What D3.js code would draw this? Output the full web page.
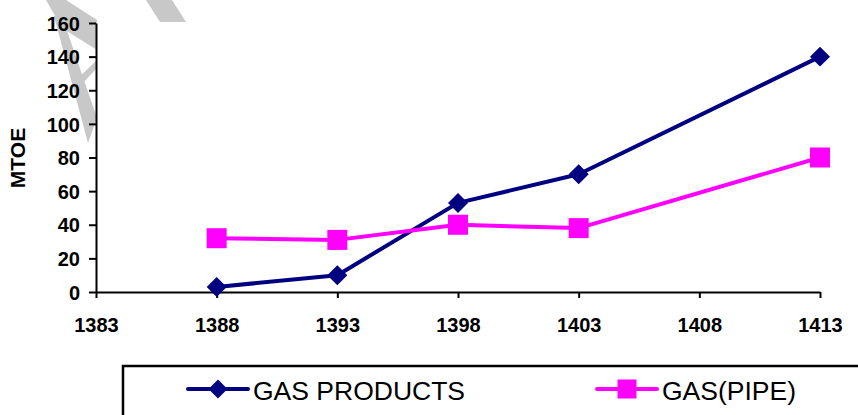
<!DOCTYPE html>
<html>
<head>
<meta charset="utf-8">
<script src="https://cdn.jsdelivr.net/npm/d3@7"></script>
<style>
  html, body { margin: 0; padding: 0; background: #fff; }
  svg { display: block; font-family: Arial, "Liberation Sans", sans-serif; }
</style>
</head>
<body>
<svg id="chart" width="858" height="415"></svg>
<script>
const years = [1388, 1393, 1398, 1403, 1413];
const xTicks = [1383, 1388, 1393, 1398, 1403, 1408, 1413];
const yTicks = [0, 20, 40, 60, 80, 100, 120, 140, 160];
const gasProducts = [3, 10, 53, 70, 140];
const gasPipe = [32, 31, 40, 38, 80];
const seriesNames = ["GAS PRODUCTS", "GAS(PIPE)"];
const seriesColors = ["#000080", "#FF00FF"];
const yTitle = "MTOE";

const svg = d3.select("#chart");
const W = 858, H = 415;
const m = { left: 96, right: 38, top: 23, bottom: 123 };

const x = d3.scaleLinear().domain([1383, 1413]).range([m.left, W - m.right]);
const y = d3.scaleLinear().domain([0, 160]).range([H - m.bottom, m.top]);

// faint grey watermark fragments (decorative)
const wm = svg.append("g").attr("fill", "#c8c8c8");
wm.append("path").attr("d", "M46,0 L66,0 L97,20 L97,50 L62,28 Z");
wm.append("path").attr("d", "M54,16 L62,16 L97,118 L88,143 Z");
wm.append("path").attr("d", "M97,60 L97,68 L80,86 L76,80 Z");
wm.append("path").attr("d", "M146,0 L172,0 L186,22 L160,22 Z");

// axes
const xAxis = svg.append("g")
  .attr("transform", `translate(0,${y(0)})`)
  .call(d3.axisBottom(x).tickValues(xTicks).tickFormat(d3.format("d")).tickSizeInner(6).tickSizeOuter(0));
const yAxis = svg.append("g")
  .attr("transform", `translate(${m.left},0)`)
  .call(d3.axisLeft(y).tickValues(yTicks).tickSizeInner(7).tickSizeOuter(0).tickPadding(9));

[xAxis, yAxis].forEach(a => {
  a.select(".domain").attr("stroke", "#000").attr("stroke-width", 2);
  a.selectAll(".tick line").attr("stroke", "#000").attr("stroke-width", 2);
  a.selectAll(".tick text")
    .attr("fill", "#000")
    .style("font-family", "Arial, 'Liberation Sans', sans-serif")
    .style("font-weight", "bold")
    .style("font-size", "20px");
});
xAxis.selectAll(".tick text").attr("dy", null).attr("y", 40);
yAxis.selectAll(".tick text").attr("dy", "0.36em");

svg.append("text")
  .attr("transform", `translate(25,158) rotate(-90)`)
  .attr("text-anchor", "middle")
  .style("font-weight", "bold")
  .style("font-size", "21px")
  .text(yTitle);

// series
const data = [gasProducts, gasPipe];
const line = d3.line().x((d, i) => x(years[i])).y(d => y(d));
data.forEach((vals, si) => {
  svg.append("path")
    .datum(vals)
    .attr("fill", "none")
    .attr("stroke", seriesColors[si])
    .attr("stroke-width", 4)
    .attr("stroke-linejoin", "round")
    .attr("d", line);
});

const diamond = d3.symbol().type(d3.symbolSquare).size(200);
svg.append("g").selectAll("path")
  .data(gasProducts).join("path")
  .attr("transform", (d, i) => `translate(${x(years[i])},${y(d)}) rotate(45)`)
  .attr("d", diamond)
  .attr("fill", seriesColors[0]);

const sq = 20;
svg.append("g").selectAll("rect")
  .data(gasPipe).join("rect")
  .attr("x", (d, i) => x(years[i]) - sq / 2)
  .attr("y", d => y(d) - sq / 2)
  .attr("width", sq).attr("height", sq)
  .attr("fill", seriesColors[1]);

// legend
const lg = svg.append("g");
lg.append("rect")
  .attr("x", 123).attr("y", 366)
  .attr("width", 760).attr("height", 80)
  .attr("fill", "#fff").attr("stroke", "#000").attr("stroke-width", 2.5);

const legendX = [188, 597];
seriesNames.forEach((name, si) => {
  const g = lg.append("g").attr("transform", `translate(${legendX[si]},389)`);
  g.append("line").attr("x1", 0).attr("x2", 60).attr("y1", 0).attr("y2", 0)
    .attr("stroke", seriesColors[si]).attr("stroke-width", 4).attr("stroke-linecap", "round");
  if (si === 0) {
    g.append("path").attr("transform", "translate(30,0) rotate(45)")
      .attr("d", d3.symbol().type(d3.symbolSquare).size(180)).attr("fill", seriesColors[si]);
  } else {
    g.append("rect").attr("x", 30 - 9.5).attr("y", -9.5).attr("width", 19).attr("height", 19).attr("fill", seriesColors[si]);
  }
  g.append("text").attr("x", 65).attr("y", 11)
    .style("font-size", "26.5px")
    .attr("fill", "#000")
    .text(name);
});
</script>
</body>
</html>
